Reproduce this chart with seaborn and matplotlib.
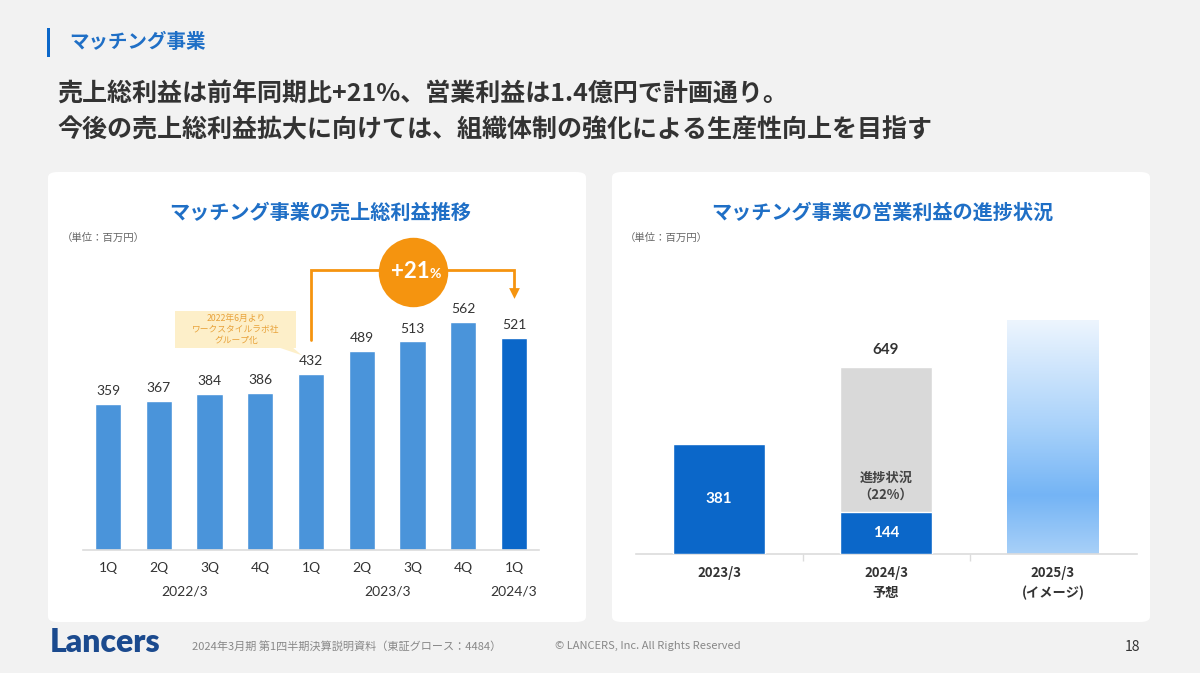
import numpy as np
import pandas as pd
import matplotlib
matplotlib.use("Agg")
import matplotlib.pyplot as plt
import matplotlib.transforms as mtransforms
from matplotlib.patches import FancyBboxPatch, Polygon, Rectangle
from matplotlib.colors import LinearSegmentedColormap
import seaborn as sns

# ---- data: left chart (gross profit, million yen) ----
quarters = ["1Q", "2Q", "3Q", "4Q", "1Q", "2Q", "3Q", "4Q", "1Q"]
fiscal_years = ["2022/3"] * 4 + ["2023/3"] * 4 + ["2024/3"]
gross_profit = [359, 367, 384, 386, 432, 489, 513, 562, 521]
growth_text = "+21"
callout_text = "2022年6月より\nワークスタイルラボ社\nグループ化"

# ---- data: right chart (operating profit, million yen) ----
periods = ["2023/3", "2024/3\n予想", "2025/3\n(イメージ)"]
op_actual = [381, 144, None]
op_plan = [None, 649, None]
op_image = [None, None, 810]
progress_text = "進捗状況\n（22%）"

headline = ["売上総利益は前年同期比+21%、営業利益は1.4億円で計画通り。",
            "今後の売上総利益拡大に向けては、組織体制の強化による生産性向上を目指す"]

BG = "#f2f2f2"
BLUE = "#0b67c9"
LIGHT_BLUE = "#4a94da"
GRAY_BAR = "#d9d9d9"
ORANGE = "#f5940f"
TXT = "#333333"
TITLE_BLUE = "#1f6fc6"
CALLOUT_BG = "#fdefc9"

sns.set_theme(style="white")
plt.rcParams["font.family"] = ["Noto Sans CJK JP", "DejaVu Sans"]
NUM_FONT = ["Lato", "Noto Sans CJK JP"]

fig = plt.figure(figsize=(12, 6.73), dpi=100, facecolor=BG)

W, H = 1200, 673


def fx(px):
    return px / W


def fy(py):
    return 1 - py / H


# white panels (behind the axes)
for x0 in (48, 612):
    fig.patches.append(FancyBboxPatch((fx(x0), fy(622)), fx(538), 450 / H,
                                      boxstyle="round,pad=0,rounding_size=0.008",
                                      transform=fig.transFigure, facecolor="white",
                                      edgecolor="none", zorder=-5))

# header
fig.patches.append(Rectangle((fx(47), fy(57)), fx(3), 29 / H, transform=fig.transFigure,
                             facecolor=BLUE, edgecolor="none"))
fig.text(fx(69), fy(42), "マッチング事業", fontsize=14, fontweight="bold",
         color=TITLE_BLUE, va="center")
fig.text(fx(57), fy(95), headline[0], fontsize=18, fontweight="bold", color=TXT, va="center")
fig.text(fx(57), fy(130), headline[1], fontsize=18, fontweight="bold", color=TXT, va="center")

# panel titles
fig.text(fx(320), fy(212), "マッチング事業の売上総利益推移", fontsize=14.5, fontweight="bold",
         color=TITLE_BLUE, ha="center", va="center")
fig.text(fx(882), fy(212), "マッチング事業の営業利益の進捗状況", fontsize=14.5, fontweight="bold",
         color=TITLE_BLUE, ha="center", va="center")
fig.text(fx(62), fy(238), "（単位：百万円）", fontsize=7.5, color="#666666", va="center")
fig.text(fx(625), fy(238), "（単位：百万円）", fontsize=7.5, color="#666666", va="center")

# ---------------- left chart ----------------
axL = fig.add_axes([fx(82.6), fy(550), fx(456.8), 300 / H])
axL.set_facecolor("none")
slots = [f"{y} {q}" for y, q in zip(fiscal_years, quarters)]
dfL = pd.DataFrame({"slot": slots, "value": gross_profit})
bar_colors = [LIGHT_BLUE] * (len(slots) - 1) + [BLUE]
sns.barplot(data=dfL, x="slot", y="value", hue="slot", palette=bar_colors, legend=False,
            width=0.52, saturation=1, ax=axL, zorder=2)
axL.set_ylim(0, 738)
axL.set_xlim(-0.5, len(slots) - 0.5)
axL.set_xlabel("")
axL.set_ylabel("")
axL.set_yticks([])
axL.set_xticks(range(len(slots)))
axL.set_xticklabels(quarters, fontsize=10, color=TXT, family=NUM_FONT)
axL.tick_params(axis="x", length=0, pad=9)
for s in ("top", "left", "right"):
    axL.spines[s].set_visible(False)
axL.spines["bottom"].set_color("#dcdcdc")
axL.spines["bottom"].set_linewidth(1.2)

for i, v in enumerate(gross_profit):
    axL.annotate(f"{v}", (i, v), xytext=(0, 5), textcoords="offset points", ha="center",
                 va="bottom", fontsize=10, color=TXT, family=NUM_FONT)

# fiscal year group labels
trans = mtransforms.blended_transform_factory(axL.transData, axL.transAxes)
for fy_name in dict.fromkeys(fiscal_years):
    idx = [i for i, f in enumerate(fiscal_years) if f == fy_name]
    axL.text(np.mean(idx), -0.137, fy_name, transform=trans, ha="center", va="center",
             fontsize=10, color=TXT, family=NUM_FONT)

# growth arrow from year-ago quarter to latest quarter
i0, i1 = 4, len(gross_profit) - 1
y_top = 688
xc = (i0 + i1) / 2
axL.plot([i0, i0, i1, i1], [gross_profit[i0] + 84, y_top, y_top, gross_profit[i1] + 115],
         color=ORANGE, lw=2, solid_joinstyle="miter", zorder=3, clip_on=False)
axL.scatter([i1], [gross_profit[i1] + 112], marker="v", s=60, color=ORANGE, zorder=4,
            clip_on=False, linewidths=0)
axL.scatter([xc], [y_top - 4], s=2500, color=ORANGE, zorder=5, clip_on=False,
            linewidths=0)
axL.text(xc + 0.33, y_top - 4, growth_text, ha="right", va="center", fontsize=16,
         fontweight="bold", color="white", family=NUM_FONT, zorder=6)
axL.text(xc + 0.33, y_top - 10, "%", ha="left", va="center", fontsize=10,
         fontweight="bold", color="white", family=NUM_FONT, zorder=6)

# callout for the acquisition (speech box pointing at the 432 bar)
cx, cy = 2.52, 543
axL.add_patch(Rectangle((cx - 1.19, cy - 45), 2.38, 90, facecolor=CALLOUT_BG,
                        edgecolor="none", zorder=4))
axL.add_patch(Polygon([[cx + 0.85, cy - 45], [cx + 1.12, cy - 45], [cx + 1.3, cy - 64]],
                      closed=True, facecolor=CALLOUT_BG, edgecolor="none", zorder=4))
axL.text(cx, cy, callout_text, ha="center", va="center", fontsize=6.3, color="#e8a23a",
         linespacing=1.25, zorder=5)

# ---------------- right chart ----------------
axR = fig.add_axes([fx(635.5), fy(554), fx(501), 304 / H])
axR.set_facecolor("none")


def layer(values):
    return pd.DataFrame({"period": [p for p, v in zip(periods, values) if v is not None],
                         "value": [v for v in values if v is not None]})


sns.barplot(data=layer(op_plan), x="period", y="value", order=periods, color=GRAY_BAR,
            saturation=1, width=0.55, ax=axR, zorder=2)
sns.barplot(data=layer(op_actual), x="period", y="value", order=periods, color=BLUE,
            saturation=1, width=0.55, ax=axR, zorder=3)
sns.barplot(data=layer(op_image), x="period", y="value", order=periods, color="white",
            saturation=1, width=0.55, ax=axR, zorder=2)

# gradient fill for the "image" bar
img_patch = axR.patches[-1]
x0 = img_patch.get_x()
bw = img_patch.get_width()
bh = img_patch.get_height()
grad_cmap = LinearSegmentedColormap.from_list(
    "img", [(0, "#edf5fe"), (0.45, "#a9d2fa"), (0.75, "#74b4f5"), (1, "#a8d0f8")])
grad = np.linspace(0, 1, 256).reshape(-1, 1)
im = axR.imshow(grad, extent=[x0, x0 + bw, 0, bh], origin="upper", aspect="auto",
                cmap=grad_cmap, zorder=2.5)
im.set_clip_path(img_patch)

axR.set_ylim(0, 1053)
axR.set_xlim(-0.5, len(periods) - 0.5)
axR.set_xlabel("")
axR.set_ylabel("")
axR.set_yticks([])
axR.set_xticks(range(len(periods)))
axR.set_xticklabels(periods, fontsize=9.5, color=TXT, fontweight="bold", linespacing=1.5,
                    va="top")
axR.tick_params(axis="x", which="major", length=0, pad=9)
axR.set_xticks(np.arange(0.5, len(periods) - 1), minor=True)
axR.tick_params(axis="x", which="minor", length=5, color="#dcdcdc", width=1, direction="out",
                bottom=True)
for s in ("top", "left", "right"):
    axR.spines[s].set_visible(False)
axR.spines["bottom"].set_color("#dcdcdc")
axR.spines["bottom"].set_linewidth(1.2)

for i, v in enumerate(op_actual):
    if v is not None:
        axR.text(i, v / 2, f"{v}", ha="center", va="center", fontsize=11, fontweight="bold",
                 color="white", family=NUM_FONT, zorder=5)
for i, v in enumerate(op_plan):
    if v is not None:
        axR.annotate(f"{v}", (i, v), xytext=(0, 7), textcoords="offset points", ha="center",
                     va="bottom", fontsize=11, fontweight="bold", color=TXT, family=NUM_FONT)
        axR.text(i, op_actual[i] + 90, progress_text, ha="center", va="center", fontsize=9.5,
                 fontweight="bold", color="#444444", linespacing=1.25, zorder=5)

# footer
fig.text(fx(50), fy(643), "Lancers", fontsize=23, fontweight="heavy", color="#1b4a8e",
         family=["Lato", "DejaVu Sans"], va="center")
fig.text(fx(192), fy(646), "2024年3月期 第1四半期決算説明資料（東証グロース：4484）",
         fontsize=8, color="#888888", va="center")
fig.text(fx(555), fy(646), "© LANCERS, Inc. All Rights Reserved", fontsize=8,
         color="#888888", va="center")
fig.text(fx(1140), fy(647), "18", fontsize=10, color=TXT, va="center", ha="right")

fig.savefig("out.png", dpi=100, facecolor=BG)
